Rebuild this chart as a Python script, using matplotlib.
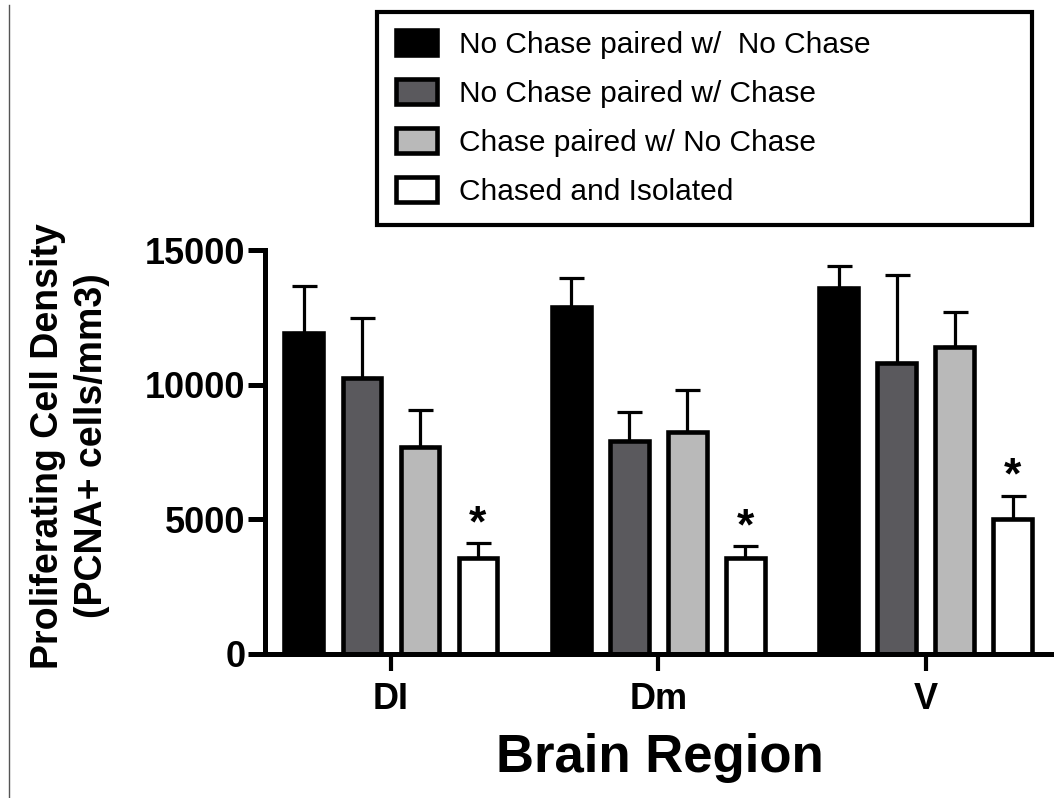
import matplotlib
matplotlib.use("Agg")
import matplotlib.pyplot as plt
from matplotlib.lines import Line2D
import numpy as np

plt.rcParams['font.family'] = ['Liberation Sans', 'DejaVu Sans']

# data
regions = ["DI", "Dm", "V"]
labels = ["No Chase paired w/  No Chase", "No Chase paired w/ Chase",
          "Chase paired w/ No Chase", "Chased and Isolated"]
nc_nc = [11900, 12900, 13600]
nc_nc_err = [1750, 1070, 800]
nc_c = [10250, 7900, 10800]
nc_c_err = [2230, 1080, 3290]
c_nc = [7700, 8250, 11400]
c_nc_err = [1360, 1540, 1280]
iso = [3560, 3550, 5030]
iso_err = [560, 460, 850]
colors = ["#000000", "#5a595d", "#b9b9b9", "#ffffff"]

fig = plt.figure(figsize=(10.54, 7.98), dpi=100)
ax = fig.add_axes([0.2514, 0.1805, 0.7486, 0.5062])

x = np.arange(len(regions))
step = 0.217
w = 0.145
series = [(nc_nc, nc_nc_err), (nc_c, nc_c_err), (c_nc, c_nc_err), (iso, iso_err)]
handles = []
for i, (vals, errs) in enumerate(series):
    xs = x + (i - 1.5) * step
    ax.errorbar(xs, vals, yerr=[np.zeros(len(vals)), errs], fmt='none',
                ecolor='black', elinewidth=2.3, capsize=9, capthick=2.3, zorder=1)
    b = ax.bar(xs, vals, w, color=colors[i], edgecolor='black', linewidth=3.3, zorder=2)
    handles.append(b)

# significance stars over the isolated group
for xi, v, e in zip(x + 1.5 * step, iso, iso_err):
    ax.annotate("*", (xi, v + e), xytext=(0, 5), textcoords='offset points',
                ha='center', va='baseline', fontsize=32, fontweight='bold')

ax.set_xlim(-0.471, 2.48)
ax.set_ylim(0, 15000)
ax.set_yticks([0, 5000, 10000, 15000])
ax.set_xticks(x)
ax.set_xticklabels(regions)
for s in ['top', 'right']:
    ax.spines[s].set_visible(False)
for s in ['left', 'bottom']:
    ax.spines[s].set_linewidth(3.6)
ax.tick_params(axis='y', length=12, width=3.6, labelsize=26, pad=2)
ax.tick_params(axis='x', length=12, width=3, labelsize=26, pad=8)
for t in ax.get_xticklabels() + ax.get_yticklabels():
    t.set_fontweight('bold')

ax.set_xlabel("Brain Region", fontsize=38, fontweight='bold', labelpad=12)
fig.text(70 / 1054, 1 - 446 / 798, "Proliferating Cell Density\n(PCNA+ cells/mm3)",
         rotation=90, ha='center', va='center', multialignment='center',
         fontsize=27, fontweight='bold', linespacing=1.3)

leg = fig.legend(handles, labels, loc='upper left',
                 bbox_to_anchor=(0.3577, 0.722, 0.6214, 0.263),
                 bbox_transform=fig.transFigure, mode='expand', borderaxespad=0,
                 fontsize=21.5, handlelength=1.38, handleheight=0.9,
                 handletextpad=0.75, labelspacing=0.68, borderpad=0.62,
                 fancybox=False, framealpha=1, edgecolor='black')
leg.get_frame().set_linewidth(3)

# thin line along left edge
fig.add_artist(Line2D([9 / 1054, 9 / 1054], [0, 1 - 5 / 798], color='#555555', lw=1))

fig.savefig("out.png", dpi=100)
